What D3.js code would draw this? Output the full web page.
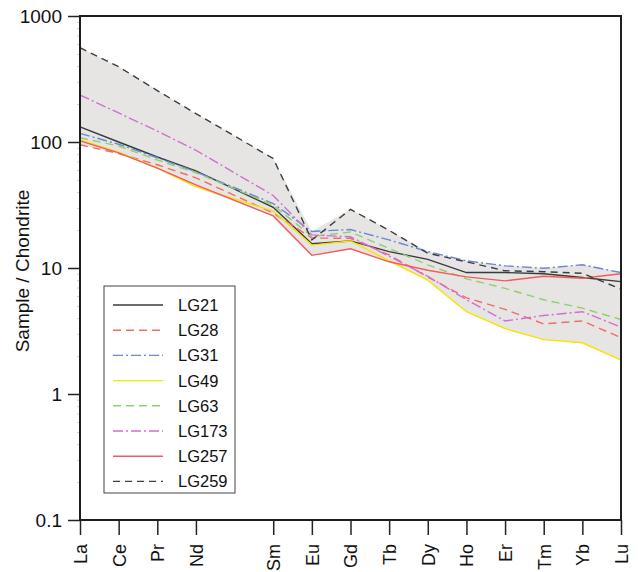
<!DOCTYPE html>
<html>
<head>
<meta charset="utf-8">
<script src="https://cdn.jsdelivr.net/npm/d3@7/dist/d3.min.js"></script>
<style>
  html, body { margin: 0; padding: 0; background: #fff; }
  svg { display: block; font-family: "Liberation Sans", Arial, Helvetica, sans-serif; }
</style>
</head>
<body>
<svg id="chart" width="638" height="572"></svg>
<script>
// Full lanthanide sequence (Pm keeps its slot on the axis but carries no data)
const reeSequence = ["La","Ce","Pr","Nd","Pm","Sm","Eu","Gd","Tb","Dy","Ho","Er","Tm","Yb","Lu"];
// Elements that were measured / labelled
const elements = ["La","Ce","Pr","Nd","Sm","Eu","Gd","Tb","Dy","Ho","Er","Tm","Yb","Lu"];

// Chondrite-normalised concentrations, one array per sample (order = elements)
const LG21  = [132, 100, 76, 59, 30.3, 15.6, 16.4, 13.5, 11.7, 9.2, 9.2, 9.0, 8.4, 7.8];
const LG28  = [95, 81, 66, 52, 27.3, 17.3, 17.2, 12.7, 8.5, 5.8, 4.7, 3.6, 3.8, 2.8];
const LG31  = [117, 96, 75, 58, 32.5, 19.5, 20.2, 16.7, 13.5, 11.4, 10.4, 9.95, 10.6, 9.2];
const LG49  = [104, 83, 62, 44, 28.3, 15.2, 16.4, 11.4, 8.0, 4.5, 3.3, 2.7, 2.55, 1.86];
const LG63  = [108, 93, 72, 57, 31.6, 17.8, 19.3, 14.3, 10.6, 8.2, 6.9, 5.6, 4.8, 3.9];
const LG173 = [236, 170, 122, 86, 37.6, 18.3, 17.7, 12.4, 8.6, 5.6, 3.8, 4.2, 4.5, 3.4];
const LG257 = [102, 82, 62, 45.6, 25.9, 12.6, 14.2, 11.2, 9.6, 8.5, 7.9, 8.6, 8.3, 9.0];
const LG259 = [560, 396, 256, 168, 74, 16.7, 29.2, 19.9, 13.1, 11.2, 9.5, 9.35, 9.08, 6.8];

const sampleNames = ["LG21","LG28","LG31","LG49","LG63","LG173","LG257","LG259"];
const sampleValues = [LG21, LG28, LG31, LG49, LG63, LG173, LG257, LG259];
const yTickValues = [0.1, 1, 10, 100, 1000];

// Line styling per sample
const styles = {
  LG21:  { color: "#3a3a3a", dash: null },
  LG28:  { color: "#f26a6a", dash: "8,5" },
  LG31:  { color: "#6a86d6", dash: "10,3,2,3" },
  LG49:  { color: "#f4e400", dash: null },
  LG63:  { color: "#8fd06e", dash: "8,5" },
  LG173: { color: "#d06fd0", dash: "10,3,2,3" },
  LG257: { color: "#f25c5c", dash: null },
  LG259: { color: "#3e3e3e", dash: "7,5" }
};

const svg = d3.select("#chart");
const plot = { left: 80, right: 621, top: 16, bottom: 520 };

const x = d3.scalePoint().domain(reeSequence).range([plot.left, plot.right]);
const y = d3.scaleLog().domain([0.1, 1000]).range([plot.bottom, plot.top]);

const samples = sampleNames.map((name, i) => ({
  name,
  points: elements.map((el, j) => ({ el, v: sampleValues[i][j] }))
}));

// Grey envelope spanning the min..max of all samples
const envelope = elements.map((el, j) => ({
  el,
  lo: d3.min(sampleValues, s => s[j]),
  hi: d3.max(sampleValues, s => s[j])
}));

svg.append("path")
  .datum(envelope)
  .attr("fill", "#e6e5e4")
  .attr("stroke", "none")
  .attr("d", d3.area()
    .x(d => x(d.el))
    .y0(d => y(d.lo))
    .y1(d => y(d.hi)));

// Sample patterns
const line = d3.line().x(d => x(d.el)).y(d => y(d.v));
svg.append("g").selectAll("path")
  .data(samples)
  .join("path")
  .attr("fill", "none")
  .attr("stroke", d => styles[d.name].color)
  .attr("stroke-width", 1.4)
  .attr("stroke-dasharray", d => styles[d.name].dash)
  .attr("d", d => line(d.points));

// Minor log ticks
const minorTicks = [];
for (let e = -1; e < 3; e++) {
  for (let m = 2; m <= 9; m++) minorTicks.push(m * Math.pow(10, e));
}
svg.append("g")
  .attr("transform", `translate(${plot.left},0)`)
  .call(d3.axisLeft(y).tickValues(minorTicks).tickSize(3).tickFormat(""))
  .call(g => g.select(".domain").remove())
  .call(g => g.selectAll("line").attr("stroke", "#cfcfcf").attr("stroke-width", 1));

// Y axis
svg.append("g")
  .attr("transform", `translate(${plot.left},0)`)
  .call(d3.axisLeft(y).tickValues(yTickValues).tickSize(12).tickPadding(6)
    .tickFormat(d => d3.format("~g")(d)))
  .call(g => g.select(".domain").remove())
  .call(g => g.selectAll("line").attr("stroke", "#222").attr("stroke-width", 1.5))
  .call(g => g.selectAll("text").attr("font-size", 19).attr("fill", "#111")
    .attr("font-family", "'Liberation Sans', Arial, sans-serif"));

// X axis with rotated element labels
svg.append("g")
  .attr("transform", `translate(0,${plot.bottom})`)
  .call(d3.axisBottom(x).tickValues(elements).tickSize(15))
  .call(g => g.select(".domain").remove())
  .call(g => g.selectAll("line").attr("stroke", "#222").attr("stroke-width", 1.5))
  .call(g => g.selectAll("text")
    .attr("font-size", 18)
    .attr("fill", "#111")
    .attr("font-family", "'Liberation Sans', Arial, sans-serif")
    .attr("transform", "rotate(-90)")
    .attr("x", -24)
    .attr("y", 0)
    .attr("dy", "0.36em")
    .attr("text-anchor", "end"));

// Plot frame
svg.append("rect")
  .attr("x", plot.left).attr("y", plot.top)
  .attr("width", plot.right - plot.left)
  .attr("height", plot.bottom - plot.top)
  .attr("fill", "none")
  .attr("stroke", "#1e1e1e")
  .attr("stroke-width", 2);

// Y title
svg.append("text")
  .attr("transform", `translate(29,${(185 + 357) / 2}) rotate(-90)`)
  .attr("text-anchor", "middle")
  .attr("font-size", 19)
  .attr("fill", "#111")
  .text("Sample / Chondrite");

// Legend
const legend = svg.append("g").attr("transform", "translate(104,286)");
legend.append("rect")
  .attr("width", 131).attr("height", 207)
  .attr("fill", "#fff")
  .attr("stroke", "#444")
  .attr("stroke-width", 1);
const item = legend.selectAll("g.item")
  .data(sampleNames)
  .join("g")
  .attr("class", "item")
  .attr("transform", (d, i) => `translate(0,${19 + i * 25.2})`);
item.append("line")
  .attr("x1", 9).attr("x2", 59)
  .attr("stroke", d => styles[d].color)
  .attr("stroke-width", 1.4)
  .attr("stroke-dasharray", d => styles[d].dash);
item.append("text")
  .attr("x", 74)
  .attr("dy", "0.36em")
  .attr("font-size", 16.5)
  .attr("fill", "#111")
  .text(d => d);
</script>
</body>
</html>
